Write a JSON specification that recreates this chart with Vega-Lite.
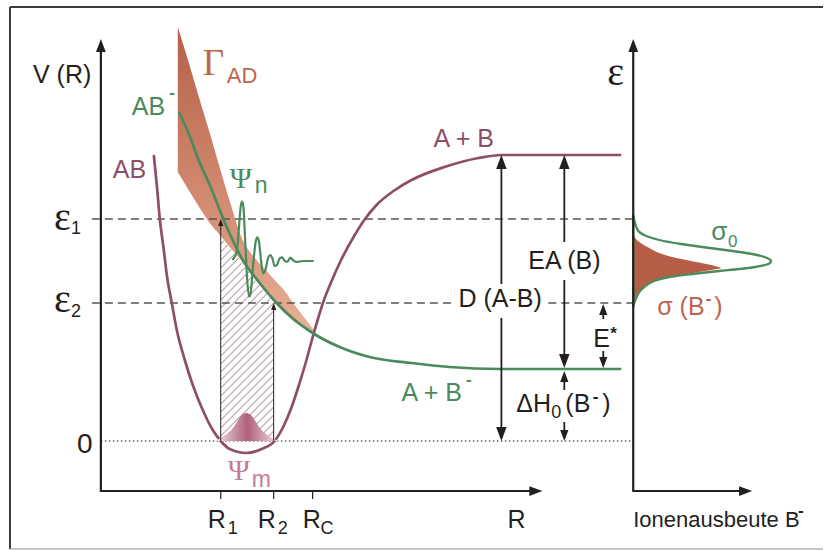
{
  "$schema": "https://vega.github.io/schema/vega-lite/v6.json",
  "width": 824,
  "height": 550,
  "padding": 0,
  "autosize": {"type": "fit", "contains": "padding"},
  "background": "white",
  "config": {"view": {"stroke": null}, "axis": {"disable": true}, "legend": {"disable": true}},
  "datasets": {
    "frame": [
      {"x": 10, "y": 7, "x2": 824, "y2": 7},
      {"x": 10, "y": 7, "x2": 10, "y2": 549}
    ],
    "hatch": [
      {"x": 221, "y": 244, "x2": 224.6, "y2": 240.4},
      {"x": 221, "y": 252, "x2": 228.1, "y2": 244.9},
      {"x": 221, "y": 260, "x2": 231.7, "y2": 249.3},
      {"x": 221, "y": 268, "x2": 235.3, "y2": 253.7},
      {"x": 221, "y": 276, "x2": 238.8, "y2": 258.2},
      {"x": 221, "y": 284, "x2": 242.4, "y2": 262.6},
      {"x": 221, "y": 292, "x2": 245.9, "y2": 267.1},
      {"x": 221, "y": 300, "x2": 249.5, "y2": 271.5},
      {"x": 221, "y": 308, "x2": 253.1, "y2": 275.9},
      {"x": 221, "y": 316, "x2": 256.6, "y2": 280.4},
      {"x": 221, "y": 324, "x2": 260.2, "y2": 284.8},
      {"x": 221, "y": 332, "x2": 263.8, "y2": 289.2},
      {"x": 221, "y": 340, "x2": 267.3, "y2": 293.7},
      {"x": 221, "y": 348, "x2": 270.9, "y2": 298.1},
      {"x": 221, "y": 356, "x2": 274, "y2": 303},
      {"x": 221, "y": 364, "x2": 274, "y2": 311},
      {"x": 221, "y": 372, "x2": 274, "y2": 319},
      {"x": 221, "y": 380, "x2": 274, "y2": 327},
      {"x": 221, "y": 388, "x2": 274, "y2": 335},
      {"x": 221, "y": 396, "x2": 274, "y2": 343},
      {"x": 221, "y": 404, "x2": 274, "y2": 351},
      {"x": 221, "y": 412, "x2": 274, "y2": 359},
      {"x": 221, "y": 420, "x2": 274, "y2": 367},
      {"x": 221, "y": 428, "x2": 274, "y2": 375},
      {"x": 221, "y": 436, "x2": 274, "y2": 383},
      {"x": 224, "y": 441, "x2": 274, "y2": 391},
      {"x": 232, "y": 441, "x2": 274, "y2": 399},
      {"x": 240, "y": 441, "x2": 274, "y2": 407},
      {"x": 248, "y": 441, "x2": 274, "y2": 415},
      {"x": 256, "y": 441, "x2": 274, "y2": 423},
      {"x": 264, "y": 441, "x2": 274, "y2": 431},
      {"x": 272, "y": 441, "x2": 274, "y2": 439}
    ],
    "gammaBand": [
      {"x": 178, "y": 27, "y2": 172},
      {"x": 190, "y": 66, "y2": 192},
      {"x": 200, "y": 100, "y2": 208},
      {"x": 210, "y": 133, "y2": 223},
      {"x": 221, "y": 171, "y2": 236},
      {"x": 230, "y": 201, "y2": 247},
      {"x": 243, "y": 240, "y2": 262},
      {"x": 255, "y": 258, "y2": 278},
      {"x": 265, "y": 269, "y2": 290},
      {"x": 274, "y": 279, "y2": 302},
      {"x": 285, "y": 291, "y2": 313},
      {"x": 295, "y": 305, "y2": 322},
      {"x": 305, "y": 318, "y2": 328},
      {"x": 312, "y": 327, "y2": 332},
      {"x": 318, "y": 336, "y2": 336}
    ],
    "levels": [
      {"x": 92, "y": 219, "x2": 634, "y2": 219},
      {"x": 92, "y": 303, "x2": 455, "y2": 303},
      {"x": 549, "y": 303, "x2": 634, "y2": 303}
    ],
    "zeroLine": [
      {"x": 101, "y": 441, "x2": 634, "y2": 441}
    ],
    "curveAB": [
      {"x": 154, "y": 155}, {"x": 157, "y": 185}, {"x": 160, "y": 219}, {"x": 164, "y": 250},
      {"x": 167, "y": 275}, {"x": 172, "y": 303}, {"x": 177, "y": 330}, {"x": 185, "y": 360},
      {"x": 193, "y": 385}, {"x": 203, "y": 410}, {"x": 213, "y": 430}, {"x": 221, "y": 441},
      {"x": 230, "y": 449}, {"x": 247, "y": 453}, {"x": 262, "y": 449}, {"x": 275, "y": 441},
      {"x": 284, "y": 426}, {"x": 292, "y": 407}, {"x": 299, "y": 386}, {"x": 306, "y": 363},
      {"x": 312, "y": 341}, {"x": 318, "y": 320}, {"x": 324, "y": 301}, {"x": 332, "y": 281},
      {"x": 342, "y": 259}, {"x": 354, "y": 237}, {"x": 364, "y": 221}, {"x": 377, "y": 205},
      {"x": 394, "y": 191}, {"x": 412, "y": 180}, {"x": 445, "y": 167}, {"x": 479, "y": 158},
      {"x": 502, "y": 155}, {"x": 540, "y": 155}, {"x": 622, "y": 155}
    ],
    "curveABminus": [
      {"x": 179, "y": 112}, {"x": 190, "y": 136}, {"x": 198, "y": 158}, {"x": 210, "y": 185},
      {"x": 227, "y": 227}, {"x": 243, "y": 260}, {"x": 260, "y": 283}, {"x": 277, "y": 303},
      {"x": 295, "y": 320}, {"x": 313, "y": 333}, {"x": 340, "y": 347}, {"x": 370, "y": 357},
      {"x": 412, "y": 363}, {"x": 450, "y": 367}, {"x": 500, "y": 369}, {"x": 622, "y": 369}
    ],
    "psiN": [
      {"x": 232.7, "y": 260}, {"x": 235, "y": 256.7}, {"x": 237.3, "y": 250}, {"x": 239.3, "y": 226.7},
      {"x": 241, "y": 206.7}, {"x": 242.3, "y": 201.7}, {"x": 243.7, "y": 206.7}, {"x": 245.3, "y": 236.7},
      {"x": 247.3, "y": 276.7}, {"x": 249.3, "y": 296.7}, {"x": 251, "y": 293}, {"x": 253.3, "y": 266.7},
      {"x": 256, "y": 241.7}, {"x": 257.7, "y": 237.3}, {"x": 259.3, "y": 241.7}, {"x": 261.7, "y": 263.3},
      {"x": 263.3, "y": 273.3}, {"x": 265.7, "y": 270}, {"x": 268.3, "y": 258.3}, {"x": 270.7, "y": 255},
      {"x": 272.7, "y": 258.3}, {"x": 275, "y": 266}, {"x": 277.3, "y": 265}, {"x": 280, "y": 258.3},
      {"x": 282.7, "y": 257.3}, {"x": 285, "y": 261}, {"x": 287.7, "y": 261.7}, {"x": 290.7, "y": 257.7},
      {"x": 293.3, "y": 260}, {"x": 296.7, "y": 262}, {"x": 303.3, "y": 261}, {"x": 314, "y": 261}
    ],
    "psiM": [
      {"x": 215, "y": 441}, {"x": 223, "y": 436.7}, {"x": 231.7, "y": 430}, {"x": 243, "y": 414.5},
      {"x": 246.7, "y": 413}, {"x": 250.5, "y": 414.5}, {"x": 261.7, "y": 430}, {"x": 270, "y": 436.7},
      {"x": 280, "y": 441}
    ],
    "sigmaZero": [
      {"y": 215, "x": 634}, {"y": 222, "x": 635.5}, {"y": 228, "x": 637.5}, {"y": 232, "x": 640},
      {"y": 236, "x": 647}, {"y": 240, "x": 660}, {"y": 244, "x": 682}, {"y": 247, "x": 703},
      {"y": 250, "x": 726}, {"y": 253, "x": 747}, {"y": 256, "x": 762}, {"y": 258, "x": 768},
      {"y": 261, "x": 772}, {"y": 263, "x": 771}, {"y": 265, "x": 766}, {"y": 267, "x": 756},
      {"y": 269, "x": 740}, {"y": 271, "x": 720}, {"y": 274, "x": 693}, {"y": 277, "x": 670},
      {"y": 281, "x": 655}, {"y": 287, "x": 645}, {"y": 292, "x": 640}, {"y": 297, "x": 637.5},
      {"y": 303, "x": 635}, {"y": 307, "x": 634}
    ],
    "sigmaIon": [
      {"y": 233, "x": 634.5}, {"y": 238, "x": 636}, {"y": 242, "x": 640}, {"y": 248, "x": 650},
      {"y": 253, "x": 660}, {"y": 257, "x": 673}, {"y": 260, "x": 687}, {"y": 263, "x": 702},
      {"y": 265, "x": 712}, {"y": 267, "x": 719}, {"y": 268, "x": 722}, {"y": 270, "x": 712},
      {"y": 272, "x": 700}, {"y": 274, "x": 688}, {"y": 277, "x": 668}, {"y": 281, "x": 654},
      {"y": 287, "x": 644}, {"y": 292, "x": 639}, {"y": 297, "x": 636.5}, {"y": 303, "x": 634.5},
      {"y": 305, "x": 634}
    ],
    "thinLines": [
      {"x": 221, "y": 441, "x2": 221, "y2": 222},
      {"x": 274, "y": 441, "x2": 274, "y2": 306}
    ],
    "shafts": [
      {"x": 502, "y": 160, "x2": 502, "y2": 284},
      {"x": 502, "y": 318, "x2": 502, "y2": 436},
      {"x": 565, "y": 160, "x2": 565, "y2": 242},
      {"x": 565, "y": 280, "x2": 565, "y2": 362},
      {"x": 565, "y": 376, "x2": 565, "y2": 390},
      {"x": 565, "y": 422, "x2": 565, "y2": 436},
      {"x": 604, "y": 309, "x2": 604, "y2": 319},
      {"x": 604, "y": 351, "x2": 604, "y2": 363}
    ],
    "axes": [
      {"x": 101, "y": 46, "x2": 101, "y2": 491},
      {"x": 100, "y": 491, "x2": 536, "y2": 491},
      {"x": 634, "y": 46, "x2": 634, "y2": 491},
      {"x": 633, "y": 491, "x2": 746, "y2": 491}
    ],
    "ticks": [
      {"x": 221, "y": 491, "x2": 221, "y2": 499},
      {"x": 274, "y": 491, "x2": 274, "y2": 499},
      {"x": 313, "y": 491, "x2": 313, "y2": 499}
    ],
    "heads": [
      {"x": 101, "y": 39, "dir": "up", "kind": "axis"},
      {"x": 543, "y": 491, "dir": "right", "kind": "axis"},
      {"x": 634, "y": 39, "dir": "up", "kind": "axis"},
      {"x": 753, "y": 491, "dir": "right", "kind": "axis"},
      {"x": 502, "y": 155, "dir": "up", "kind": "big"},
      {"x": 502, "y": 441, "dir": "down", "kind": "big"},
      {"x": 565, "y": 155, "dir": "up", "kind": "big"},
      {"x": 565, "y": 368, "dir": "down", "kind": "big"},
      {"x": 565, "y": 371, "dir": "up", "kind": "mid"},
      {"x": 565, "y": 441, "dir": "down", "kind": "mid"},
      {"x": 604, "y": 304, "dir": "up", "kind": "mid"},
      {"x": 604, "y": 368, "dir": "down", "kind": "mid"},
      {"x": 221, "y": 219, "dir": "up", "kind": "small"},
      {"x": 274, "y": 303, "dir": "up", "kind": "small"}
    ]
  },
  "layer": [
    {
      "data": {"name": "frame"},
      "mark": {"type": "rule", "color": "#3a3a3a", "strokeWidth": 2},
      "encoding": {
        "x": {"field": "x", "type": "quantitative", "scale": {"domain": [0, 824], "nice": false, "zero": false}},
        "y": {"field": "y", "type": "quantitative", "scale": {"domain": [0, 550], "reverse": true, "nice": false, "zero": false}},
        "x2": {"field": "x2"}, "y2": {"field": "y2"}
      }
    },
    {
      "data": {"values": [{"x": 10, "y": 549, "x2": 824, "y2": 549}]},
      "mark": {"type": "rule", "color": "#b4b4b4", "strokeWidth": 1.5},
      "encoding": {
        "x": {"field": "x", "type": "quantitative", "scale": {"domain": [0, 824], "nice": false, "zero": false}},
        "y": {"field": "y", "type": "quantitative", "scale": {"domain": [0, 550], "reverse": true, "nice": false, "zero": false}},
        "x2": {"field": "x2"}, "y2": {"field": "y2"}
      }
    },
    {
      "data": {"name": "hatch"},
      "mark": {"type": "rule", "color": "#8d4f68", "strokeWidth": 0.8},
      "encoding": {
        "x": {"field": "x", "type": "quantitative", "scale": {"domain": [0, 824], "nice": false, "zero": false}},
        "y": {"field": "y", "type": "quantitative", "scale": {"domain": [0, 550], "reverse": true, "nice": false, "zero": false}},
        "x2": {"field": "x2"}, "y2": {"field": "y2"}
      }
    },
    {
      "data": {"name": "gammaBand"},
      "mark": {
        "type": "area",
        "interpolate": "monotone",
        "fill": {
          "gradient": "linear", "x1": 0, "y1": 0, "x2": 0, "y2": 1,
          "stops": [
            {"offset": 0, "color": "#b65f4a"},
            {"offset": 0.5, "color": "#cf866d"},
            {"offset": 1, "color": "#e9b199"}
          ]
        }
      },
      "encoding": {
        "x": {"field": "x", "type": "quantitative", "scale": {"domain": [0, 824], "nice": false, "zero": false}},
        "y": {"field": "y", "type": "quantitative", "scale": {"domain": [0, 550], "reverse": true, "nice": false, "zero": false}},
        "y2": {"field": "y2"}
      }
    },
    {
      "data": {"name": "levels"},
      "mark": {"type": "rule", "color": "#555555", "strokeWidth": 1.3, "strokeDash": [8, 5]},
      "encoding": {
        "x": {"field": "x", "type": "quantitative", "scale": {"domain": [0, 824], "nice": false, "zero": false}},
        "y": {"field": "y", "type": "quantitative", "scale": {"domain": [0, 550], "reverse": true, "nice": false, "zero": false}},
        "x2": {"field": "x2"}, "y2": {"field": "y2"}
      }
    },
    {
      "data": {"name": "zeroLine"},
      "mark": {"type": "rule", "color": "#666666", "strokeWidth": 1.3, "strokeDash": [1.5, 2.5]},
      "encoding": {
        "x": {"field": "x", "type": "quantitative", "scale": {"domain": [0, 824], "nice": false, "zero": false}},
        "y": {"field": "y", "type": "quantitative", "scale": {"domain": [0, 550], "reverse": true, "nice": false, "zero": false}},
        "x2": {"field": "x2"}, "y2": {"field": "y2"}
      }
    },
    {
      "data": {"name": "curveAB"},
      "mark": {"type": "line", "interpolate": "monotone", "color": "#8d4f68", "strokeWidth": 2.7},
      "encoding": {
        "x": {"field": "x", "type": "quantitative", "scale": {"domain": [0, 824], "nice": false, "zero": false}},
        "y": {"field": "y", "type": "quantitative", "scale": {"domain": [0, 550], "reverse": true, "nice": false, "zero": false}}
      }
    },
    {
      "data": {"name": "curveABminus"},
      "mark": {"type": "line", "interpolate": "monotone", "color": "#4a8a5c", "strokeWidth": 2.7},
      "encoding": {
        "x": {"field": "x", "type": "quantitative", "scale": {"domain": [0, 824], "nice": false, "zero": false}},
        "y": {"field": "y", "type": "quantitative", "scale": {"domain": [0, 550], "reverse": true, "nice": false, "zero": false}}
      }
    },
    {
      "data": {"name": "psiN"},
      "mark": {"type": "line", "interpolate": "monotone", "color": "#4a8a5c", "strokeWidth": 2.2},
      "encoding": {
        "x": {"field": "x", "type": "quantitative", "scale": {"domain": [0, 824], "nice": false, "zero": false}},
        "y": {"field": "y", "type": "quantitative", "scale": {"domain": [0, 550], "reverse": true, "nice": false, "zero": false}}
      }
    },
    {
      "data": {"name": "psiM"},
      "mark": {
        "type": "area",
        "interpolate": "monotone",
        "fill": {
          "gradient": "linear", "x1": 0, "y1": 0, "x2": 1, "y2": 0,
          "stops": [
            {"offset": 0, "color": "#f4e2e7"},
            {"offset": 0.5, "color": "#ad6179"},
            {"offset": 1, "color": "#f4e2e7"}
          ]
        }
      },
      "encoding": {
        "x": {"field": "x", "type": "quantitative", "scale": {"domain": [0, 824], "nice": false, "zero": false}},
        "y": {"field": "y", "type": "quantitative", "scale": {"domain": [0, 550], "reverse": true, "nice": false, "zero": false}},
        "y2": {"datum": 441}
      }
    },
    {
      "data": {"name": "sigmaIon"},
      "mark": {"type": "area", "orient": "horizontal", "interpolate": "monotone", "fill": "#b55d47"},
      "encoding": {
        "x": {"field": "x", "type": "quantitative", "scale": {"domain": [0, 824], "nice": false, "zero": false}},
        "y": {"field": "y", "type": "quantitative", "scale": {"domain": [0, 550], "reverse": true, "nice": false, "zero": false}},
        "x2": {"datum": 634}
      }
    },
    {
      "data": {"name": "sigmaZero"},
      "mark": {"type": "area", "orient": "horizontal", "interpolate": "monotone", "fill": "white", "fillOpacity": 0, "stroke": "#4a8a5c", "strokeWidth": 2.3},
      "encoding": {
        "x": {"field": "x", "type": "quantitative", "scale": {"domain": [0, 824], "nice": false, "zero": false}},
        "y": {"field": "y", "type": "quantitative", "scale": {"domain": [0, 550], "reverse": true, "nice": false, "zero": false}},
        "x2": {"datum": 634}
      }
    },
    {
      "data": {"name": "thinLines"},
      "mark": {"type": "rule", "color": "#231f20", "strokeWidth": 1},
      "encoding": {
        "x": {"field": "x", "type": "quantitative", "scale": {"domain": [0, 824], "nice": false, "zero": false}},
        "y": {"field": "y", "type": "quantitative", "scale": {"domain": [0, 550], "reverse": true, "nice": false, "zero": false}},
        "x2": {"field": "x2"}, "y2": {"field": "y2"}
      }
    },
    {
      "data": {"name": "shafts"},
      "mark": {"type": "rule", "color": "#231f20", "strokeWidth": 1.8},
      "encoding": {
        "x": {"field": "x", "type": "quantitative", "scale": {"domain": [0, 824], "nice": false, "zero": false}},
        "y": {"field": "y", "type": "quantitative", "scale": {"domain": [0, 550], "reverse": true, "nice": false, "zero": false}},
        "x2": {"field": "x2"}, "y2": {"field": "y2"}
      }
    },
    {
      "data": {"name": "axes"},
      "mark": {"type": "rule", "color": "#231f20", "strokeWidth": 2.2},
      "encoding": {
        "x": {"field": "x", "type": "quantitative", "scale": {"domain": [0, 824], "nice": false, "zero": false}},
        "y": {"field": "y", "type": "quantitative", "scale": {"domain": [0, 550], "reverse": true, "nice": false, "zero": false}},
        "x2": {"field": "x2"}, "y2": {"field": "y2"}
      }
    },
    {
      "data": {"name": "ticks"},
      "mark": {"type": "rule", "color": "#231f20", "strokeWidth": 1.2},
      "encoding": {
        "x": {"field": "x", "type": "quantitative", "scale": {"domain": [0, 824], "nice": false, "zero": false}},
        "y": {"field": "y", "type": "quantitative", "scale": {"domain": [0, 550], "reverse": true, "nice": false, "zero": false}},
        "x2": {"field": "x2"}, "y2": {"field": "y2"}
      }
    },
    {
      "data": {"name": "heads"},
      "transform": [{"filter": "datum.kind === 'axis'"}],
      "mark": {"type": "point", "filled": true, "fill": "#231f20", "strokeWidth": 0, "opacity": 1, "size": 169},
      "encoding": {
        "x": {"field": "x", "type": "quantitative", "scale": {"domain": [0, 824], "nice": false, "zero": false}},
        "y": {"field": "y", "type": "quantitative", "scale": {"domain": [0, 550], "reverse": true, "nice": false, "zero": false}},
        "shape": {"field": "dir", "type": "nominal", "scale": {"domain": ["up", "down", "right"], "range": ["M0,0L0.75,2L-0.75,2Z", "M0,0L0.75,-2L-0.75,-2Z", "M0,0L-2,0.75L-2,-0.75Z"]}}
      }
    },
    {
      "data": {"name": "heads"},
      "transform": [{"filter": "datum.kind === 'big'"}],
      "mark": {"type": "point", "filled": true, "fill": "#231f20", "strokeWidth": 0, "opacity": 1, "size": 196},
      "encoding": {
        "x": {"field": "x", "type": "quantitative", "scale": {"domain": [0, 824], "nice": false, "zero": false}},
        "y": {"field": "y", "type": "quantitative", "scale": {"domain": [0, 550], "reverse": true, "nice": false, "zero": false}},
        "shape": {"field": "dir", "type": "nominal", "scale": {"domain": ["up", "down", "right"], "range": ["M0,0L0.75,2L-0.75,2Z", "M0,0L0.75,-2L-0.75,-2Z", "M0,0L-2,0.75L-2,-0.75Z"]}}
      }
    },
    {
      "data": {"name": "heads"},
      "transform": [{"filter": "datum.kind === 'mid'"}],
      "mark": {"type": "point", "filled": true, "fill": "#231f20", "strokeWidth": 0, "opacity": 1, "size": 121},
      "encoding": {
        "x": {"field": "x", "type": "quantitative", "scale": {"domain": [0, 824], "nice": false, "zero": false}},
        "y": {"field": "y", "type": "quantitative", "scale": {"domain": [0, 550], "reverse": true, "nice": false, "zero": false}},
        "shape": {"field": "dir", "type": "nominal", "scale": {"domain": ["up", "down", "right"], "range": ["M0,0L0.75,2L-0.75,2Z", "M0,0L0.75,-2L-0.75,-2Z", "M0,0L-2,0.75L-2,-0.75Z"]}}
      }
    },
    {
      "data": {"name": "heads"},
      "transform": [{"filter": "datum.kind === 'small'"}],
      "mark": {"type": "point", "filled": true, "fill": "#231f20", "strokeWidth": 0, "opacity": 1, "size": 49},
      "encoding": {
        "x": {"field": "x", "type": "quantitative", "scale": {"domain": [0, 824], "nice": false, "zero": false}},
        "y": {"field": "y", "type": "quantitative", "scale": {"domain": [0, 550], "reverse": true, "nice": false, "zero": false}},
        "shape": {"field": "dir", "type": "nominal", "scale": {"domain": ["up", "down", "right"], "range": ["M0,0L0.75,2L-0.75,2Z", "M0,0L0.75,-2L-0.75,-2Z", "M0,0L-2,0.75L-2,-0.75Z"]}}
      }
    },
    {
      "data": {"values": [
        {"t": "V (R)", "x": 33, "y": 83},
        {"t": "R", "x": 208, "y": 528},
        {"t": "R", "x": 258, "y": 528},
        {"t": "R", "x": 303, "y": 528},
        {"t": "R", "x": 508, "y": 528},
        {"t": "D (A-B)", "x": 459, "y": 307},
        {"t": "EA (B)", "x": 529, "y": 269},
        {"t": "E", "x": 594, "y": 347},
        {"t": "ΔH", "x": 517, "y": 412},
        {"t": "(B", "x": 566, "y": 412},
        {"t": ")", "x": 603, "y": 412}
      ]},
      "mark": {"type": "text", "align": "left", "baseline": "alphabetic", "font": "Liberation Sans", "fontSize": 25, "color": "#231f20"},
      "encoding": {
        "x": {"field": "x", "type": "quantitative", "scale": {"domain": [0, 824], "nice": false, "zero": false}},
        "y": {"field": "y", "type": "quantitative", "scale": {"domain": [0, 550], "reverse": true, "nice": false, "zero": false}},
        "text": {"field": "t"}
      }
    },
    {
      "data": {"values": [{"t": "0", "x": 77, "y": 453}]},
      "mark": {"type": "text", "align": "left", "baseline": "alphabetic", "font": "Liberation Sans", "fontSize": 28, "color": "#231f20"},
      "encoding": {
        "x": {"field": "x", "type": "quantitative", "scale": {"domain": [0, 824], "nice": false, "zero": false}},
        "y": {"field": "y", "type": "quantitative", "scale": {"domain": [0, 550], "reverse": true, "nice": false, "zero": false}},
        "text": {"field": "t"}
      }
    },
    {
      "data": {"values": [{"t": "Ionenausbeute B", "x": 634, "y": 527}]},
      "mark": {"type": "text", "align": "left", "baseline": "alphabetic", "font": "Liberation Sans", "fontSize": 22, "color": "#231f20"},
      "encoding": {
        "x": {"field": "x", "type": "quantitative", "scale": {"domain": [0, 824], "nice": false, "zero": false}},
        "y": {"field": "y", "type": "quantitative", "scale": {"domain": [0, 550], "reverse": true, "nice": false, "zero": false}},
        "text": {"field": "t"}
      }
    },
    {
      "data": {"values": [
        {"t": "1", "x": 228, "y": 534},
        {"t": "2", "x": 278, "y": 534},
        {"t": "C", "x": 321, "y": 534},
        {"t": "1", "x": 71, "y": 234},
        {"t": "2", "x": 71, "y": 317},
        {"t": "0", "x": 552, "y": 418}
      ]},
      "mark": {"type": "text", "align": "left", "baseline": "alphabetic", "font": "Liberation Sans", "fontSize": 18, "color": "#231f20"},
      "encoding": {
        "x": {"field": "x", "type": "quantitative", "scale": {"domain": [0, 824], "nice": false, "zero": false}},
        "y": {"field": "y", "type": "quantitative", "scale": {"domain": [0, 550], "reverse": true, "nice": false, "zero": false}},
        "text": {"field": "t"}
      }
    },
    {
      "data": {"values": [
        {"t": "*", "x": 611, "y": 339},
        {"t": "-", "x": 593.5, "y": 402},
        {"t": "-", "x": 799, "y": 516}
      ]},
      "mark": {"type": "text", "align": "left", "baseline": "alphabetic", "font": "Liberation Sans", "fontSize": 17, "fontWeight": "bold", "color": "#231f20"},
      "encoding": {
        "x": {"field": "x", "type": "quantitative", "scale": {"domain": [0, 824], "nice": false, "zero": false}},
        "y": {"field": "y", "type": "quantitative", "scale": {"domain": [0, 550], "reverse": true, "nice": false, "zero": false}},
        "text": {"field": "t"}
      }
    },
    {
      "data": {"values": [
        {"t": "ε", "x": 54, "y": 230},
        {"t": "ε", "x": 54, "y": 312},
        {"t": "ε", "x": 608, "y": 85}
      ]},
      "mark": {"type": "text", "align": "left", "baseline": "alphabetic", "font": "Liberation Serif", "fontSize": 40, "color": "#231f20"},
      "encoding": {
        "x": {"field": "x", "type": "quantitative", "scale": {"domain": [0, 824], "nice": false, "zero": false}},
        "y": {"field": "y", "type": "quantitative", "scale": {"domain": [0, 550], "reverse": true, "nice": false, "zero": false}},
        "text": {"field": "t"}
      }
    },
    {
      "data": {"values": [{"t": "Γ", "x": 203, "y": 75}]},
      "mark": {"type": "text", "align": "left", "baseline": "alphabetic", "font": "Liberation Serif", "fontSize": 37, "color": "#c0654d"},
      "encoding": {
        "x": {"field": "x", "type": "quantitative", "scale": {"domain": [0, 824], "nice": false, "zero": false}},
        "y": {"field": "y", "type": "quantitative", "scale": {"domain": [0, 550], "reverse": true, "nice": false, "zero": false}},
        "text": {"field": "t"}
      }
    },
    {
      "data": {"values": [{"t": "AD", "x": 227, "y": 83}]},
      "mark": {"type": "text", "align": "left", "baseline": "alphabetic", "font": "Liberation Sans", "fontSize": 22, "color": "#c0654d"},
      "encoding": {
        "x": {"field": "x", "type": "quantitative", "scale": {"domain": [0, 824], "nice": false, "zero": false}},
        "y": {"field": "y", "type": "quantitative", "scale": {"domain": [0, 550], "reverse": true, "nice": false, "zero": false}},
        "text": {"field": "t"}
      }
    },
    {
      "data": {"values": [
        {"t": "σ (B", "x": 658, "y": 315},
        {"t": ")", "x": 715, "y": 315}
      ]},
      "mark": {"type": "text", "align": "left", "baseline": "alphabetic", "font": "Liberation Sans", "fontSize": 25, "color": "#c0654d"},
      "encoding": {
        "x": {"field": "x", "type": "quantitative", "scale": {"domain": [0, 824], "nice": false, "zero": false}},
        "y": {"field": "y", "type": "quantitative", "scale": {"domain": [0, 550], "reverse": true, "nice": false, "zero": false}},
        "text": {"field": "t"}
      }
    },
    {
      "data": {"values": [{"t": "-", "x": 706.5, "y": 304}]},
      "mark": {"type": "text", "align": "left", "baseline": "alphabetic", "font": "Liberation Sans", "fontSize": 17, "fontWeight": "bold", "color": "#c0654d"},
      "encoding": {
        "x": {"field": "x", "type": "quantitative", "scale": {"domain": [0, 824], "nice": false, "zero": false}},
        "y": {"field": "y", "type": "quantitative", "scale": {"domain": [0, 550], "reverse": true, "nice": false, "zero": false}},
        "text": {"field": "t"}
      }
    },
    {
      "data": {"values": [
        {"t": "AB", "x": 132, "y": 115},
        {"t": "A + B", "x": 402, "y": 401}
      ]},
      "mark": {"type": "text", "align": "left", "baseline": "alphabetic", "font": "Liberation Sans", "fontSize": 25, "color": "#4a8a5c"},
      "encoding": {
        "x": {"field": "x", "type": "quantitative", "scale": {"domain": [0, 824], "nice": false, "zero": false}},
        "y": {"field": "y", "type": "quantitative", "scale": {"domain": [0, 550], "reverse": true, "nice": false, "zero": false}},
        "text": {"field": "t"}
      }
    },
    {
      "data": {"values": [
        {"t": "-", "x": 169.5, "y": 98},
        {"t": "-", "x": 466.5, "y": 385}
      ]},
      "mark": {"type": "text", "align": "left", "baseline": "alphabetic", "font": "Liberation Sans", "fontSize": 17, "fontWeight": "bold", "color": "#4a8a5c"},
      "encoding": {
        "x": {"field": "x", "type": "quantitative", "scale": {"domain": [0, 824], "nice": false, "zero": false}},
        "y": {"field": "y", "type": "quantitative", "scale": {"domain": [0, 550], "reverse": true, "nice": false, "zero": false}},
        "text": {"field": "t"}
      }
    },
    {
      "data": {"values": [{"t": "0", "x": 729, "y": 247}]},
      "mark": {"type": "text", "align": "left", "baseline": "alphabetic", "font": "Liberation Sans", "fontSize": 17, "color": "#4a8a5c"},
      "encoding": {
        "x": {"field": "x", "type": "quantitative", "scale": {"domain": [0, 824], "nice": false, "zero": false}},
        "y": {"field": "y", "type": "quantitative", "scale": {"domain": [0, 550], "reverse": true, "nice": false, "zero": false}},
        "text": {"field": "t"}
      }
    },
    {
      "data": {"values": [{"t": "σ", "x": 712, "y": 240}]},
      "mark": {"type": "text", "align": "left", "baseline": "alphabetic", "font": "Liberation Sans", "fontSize": 26, "color": "#4a8a5c"},
      "encoding": {
        "x": {"field": "x", "type": "quantitative", "scale": {"domain": [0, 824], "nice": false, "zero": false}},
        "y": {"field": "y", "type": "quantitative", "scale": {"domain": [0, 550], "reverse": true, "nice": false, "zero": false}},
        "text": {"field": "t"}
      }
    },
    {
      "data": {"values": [{"t": "n", "x": 255, "y": 193}]},
      "mark": {"type": "text", "align": "left", "baseline": "alphabetic", "font": "Liberation Sans", "fontSize": 23, "color": "#4a8a5c"},
      "encoding": {
        "x": {"field": "x", "type": "quantitative", "scale": {"domain": [0, 824], "nice": false, "zero": false}},
        "y": {"field": "y", "type": "quantitative", "scale": {"domain": [0, 550], "reverse": true, "nice": false, "zero": false}},
        "text": {"field": "t"}
      }
    },
    {
      "data": {"values": [{"t": "Ψ", "x": 230, "y": 188}]},
      "mark": {"type": "text", "align": "left", "baseline": "alphabetic", "font": "Liberation Serif", "fontSize": 30, "color": "#4a8a5c"},
      "encoding": {
        "x": {"field": "x", "type": "quantitative", "scale": {"domain": [0, 824], "nice": false, "zero": false}},
        "y": {"field": "y", "type": "quantitative", "scale": {"domain": [0, 550], "reverse": true, "nice": false, "zero": false}},
        "text": {"field": "t"}
      }
    },
    {
      "data": {"values": [{"t": "Ψ", "x": 228, "y": 480}]},
      "mark": {"type": "text", "align": "left", "baseline": "alphabetic", "font": "Liberation Serif", "fontSize": 30, "color": "#c47b94"},
      "encoding": {
        "x": {"field": "x", "type": "quantitative", "scale": {"domain": [0, 824], "nice": false, "zero": false}},
        "y": {"field": "y", "type": "quantitative", "scale": {"domain": [0, 550], "reverse": true, "nice": false, "zero": false}},
        "text": {"field": "t"}
      }
    },
    {
      "data": {"values": [{"t": "m", "x": 252, "y": 487}]},
      "mark": {"type": "text", "align": "left", "baseline": "alphabetic", "font": "Liberation Sans", "fontSize": 23, "color": "#c47b94"},
      "encoding": {
        "x": {"field": "x", "type": "quantitative", "scale": {"domain": [0, 824], "nice": false, "zero": false}},
        "y": {"field": "y", "type": "quantitative", "scale": {"domain": [0, 550], "reverse": true, "nice": false, "zero": false}},
        "text": {"field": "t"}
      }
    },
    {
      "data": {"values": [
        {"t": "AB", "x": 113, "y": 178},
        {"t": "A + B", "x": 434, "y": 147}
      ]},
      "mark": {"type": "text", "align": "left", "baseline": "alphabetic", "font": "Liberation Sans", "fontSize": 25, "color": "#8d4f68"},
      "encoding": {
        "x": {"field": "x", "type": "quantitative", "scale": {"domain": [0, 824], "nice": false, "zero": false}},
        "y": {"field": "y", "type": "quantitative", "scale": {"domain": [0, 550], "reverse": true, "nice": false, "zero": false}},
        "text": {"field": "t"}
      }
    }
  ]
}
